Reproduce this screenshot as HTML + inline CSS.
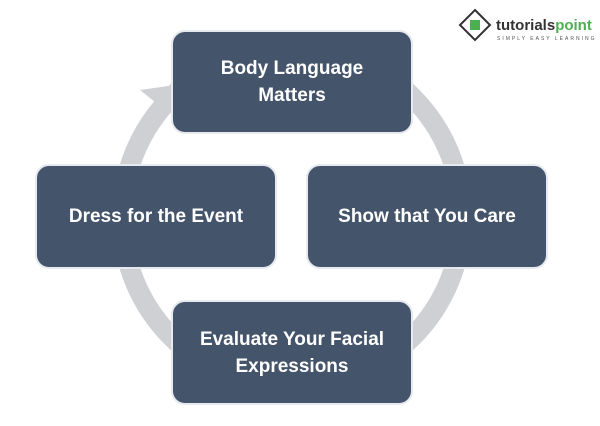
<!DOCTYPE html>
<html><head><style>
body{margin:0;width:600px;height:426px;background:#fff;overflow:hidden;position:relative;font-family:"Liberation Sans",sans-serif}
.b{position:absolute;width:236px;height:100px;background:#44546a;border:2px solid #e6e9ee;border-radius:14px;color:#fff;font-weight:bold;font-size:19px;display:flex;align-items:center;justify-content:center;text-align:center;line-height:27px;box-sizing:border-box}
</style></head><body>
<svg width="600" height="426" style="position:absolute;left:0;top:0">
<circle cx="292" cy="217" r="170" fill="none" stroke="#cfd0d4" stroke-width="20"/>
<polygon points="140,90 168,86 170,114" fill="#cfd0d4"/>
<g transform="translate(460,10)">
<polygon points="15,0 30,15 15,30 0,15" fill="#fff" stroke="#333" stroke-width="2"/>
<rect x="10" y="10" width="10" height="10" fill="#4caf50"/>
<text x="36" y="20" font-family="Liberation Sans" font-weight="bold" font-size="15" fill="#333">tutorials<tspan fill="#4caf50">point</tspan></text>
<text x="37" y="30" font-family="Liberation Sans" font-size="5" fill="#555" letter-spacing="2">SIMPLY EASY LEARNING</text>
</g>
</svg>
<div class="b" style="left:171px;top:30px;width:242px;height:104px">Body Language<br>Matters</div>
<div class="b" style="left:35px;top:164px;width:242px;height:105px">Dress for the Event</div>
<div class="b" style="left:306px;top:164px;width:242px;height:105px">Show that You Care</div>
<div class="b" style="left:171px;top:300px;width:242px;height:105px">Evaluate Your Facial<br>Expressions</div>
</body></html>
